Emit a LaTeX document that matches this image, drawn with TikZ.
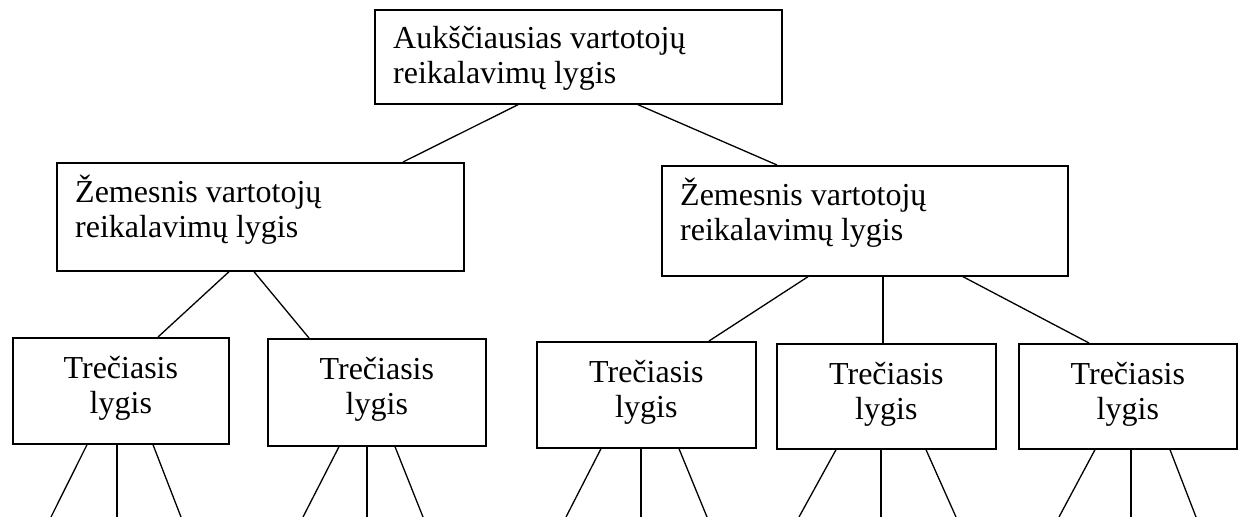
\documentclass[tikz,border=0pt]{standalone}
\usepackage{fontspec}
\setmainfont{Liberation Serif}
\usetikzlibrary{calc}
\begin{document}
\begin{tikzpicture}[x=1pt,y=-1pt,
  box/.style={draw, line width=1.7pt, rectangle, inner sep=0pt, anchor=north west},
  wire/.style={line width=1.3pt},
  lbl/.style={font=\fontsize{32}{35.5}\selectfont, inner sep=0pt, anchor=base west},
  clbl/.style={font=\fontsize{32}{35.5}\selectfont, inner sep=0pt, anchor=base},
]
\useasboundingbox (0,0) rectangle (1243,517);
\fill[white] (0,0) rectangle (1243,517);

% level 1
\node[box, minimum width=407pt, minimum height=94pt] (top) at (374,9) {};
\node[lbl] (top1) at (393,48) {Aukščiausias vartotojų};
\node[lbl] (top2) at (393,83) {reikalavimų lygis};

% level 2
\node[box, minimum width=407pt, minimum height=108pt] (mL) at (56,162) {};
\node[lbl] (mL1) at (75,202) {Žemesnis vartotojų};
\node[lbl] (mL2) at (75,237) {reikalavimų lygis};

\node[box, minimum width=406pt, minimum height=110pt] (mR) at (661,165) {};
\node[lbl] (mR1) at (680,205) {Žemesnis vartotojų};
\node[lbl] (mR2) at (680,240) {reikalavimų lygis};

% level 3
\foreach \n/\x/\y/\w/\h in {b1/12/337/216/106, b2/267/338/218/107, b3/536/341/219/106,
                             b4/776/343/219/105, b5/1018/343/218/105} {
  \node[box, minimum width=\w pt, minimum height=\h pt] (\n) at (\x,\y) {};
  \node[clbl] (\n-t1) at ($(\n.north)+(0,41)$) {Trečiasis};
  \node[clbl] (\n-t2) at ($(\n.north)+(0,76)$) {lygis};
}

% connectors between levels
\draw[wire] ($(top.south west)+(144,0)$) -- ($(mL.north west)+(347,0)$);
\draw[wire] ($(top.south west)+(264,0)$) -- ($(mR.north west)+(116,0)$);
\draw[wire] ($(mL.south west)+(173,0)$) -- ($(b1.north west)+(146,0)$);
\draw[wire] ($(mL.south west)+(198,0)$) -- ($(b2.north west)+(42,0)$);
\draw[wire] ($(mR.south west)+(147,0)$) -- ($(b3.north west)+(173,0)$);
\draw[wire] ($(mR.south west)+(222,0)$) -- ($(b4.north west)+(107,0)$);
\draw[wire] ($(mR.south west)+(302,0)$) -- ($(b5.north west)+(71,0)$);

% open legs below the third level
\foreach \n/\a/\ea/\m/\c/\ec in {b1/75/51/105/141/181, b2/72/303/100/128/423,
                                 b3/65/566/105/143/707, b4/60/799/105/150/956,
                                 b5/77/1059/113/152/1196} {
  \coordinate (\n-l) at (\ea,517);
  \coordinate (\n-r) at (\ec,517);
  \coordinate (\n-m) at ($(\n.south west)+(\m,0)$);
  \coordinate (\n-mb) at (\n-m |- \n-l);
  \draw[wire] ($(\n.south west)+(\a,0)$) -- (\n-l);
  \draw[wire] (\n-m) -- (\n-mb);
  \draw[wire] ($(\n.south west)+(\c,0)$) -- (\n-r);
}
\end{tikzpicture}
\end{document}
